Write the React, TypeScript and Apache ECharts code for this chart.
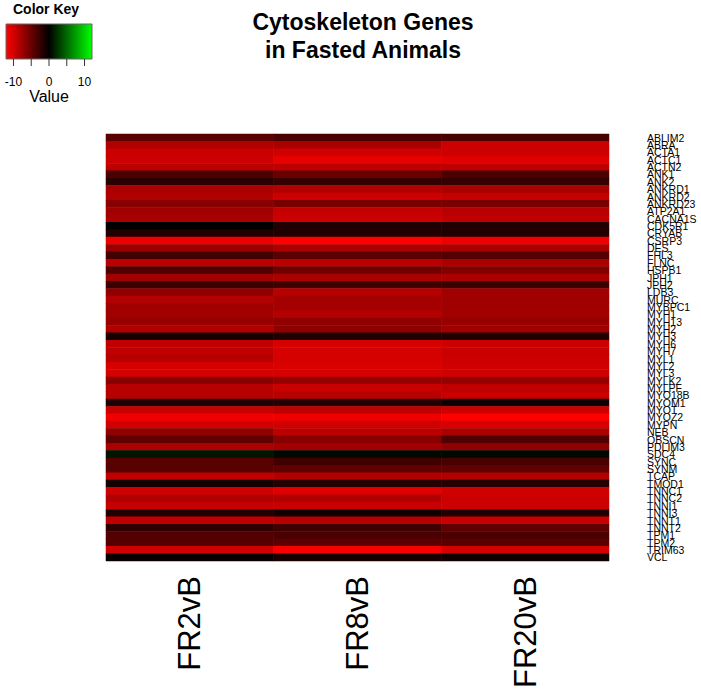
import React, { useEffect, useRef } from "react";
import * as echarts from "echarts";

const genes = [
  "ABLIM2", "ABRA", "ACTA1", "ACTC1", "ACTN2", "ANK1", "ANK2", "ANKRD1", "ANKRD2", "ANKRD23",
  "ATP2A1", "CACNA1S", "CDK5R1", "CRYAB", "CSRP3", "DES", "FHL3", "FLNC", "HSPB1", "JPH1",
  "JPH2", "LDB3", "MURC", "MYBPC1", "MYH1", "MYH13", "MYH2", "MYH3", "MYH6", "MYH7",
  "MYL1", "MYL2", "MYL3", "MYLK2", "MYLPF", "MYO18B", "MYOM1", "MYOT", "MYOZ2", "MYPN",
  "NEB", "OBSCN", "PDLIM3", "SDC4", "SYNC", "SYNM", "TCAP", "TMOD1", "TNNC1", "TNNC2",
  "TNNI1", "TNNI3", "TNNT1", "TNNT2", "TPM1", "TPM2", "TRIM63", "VCL",
];

const conditions = ["FR2vB", "FR8vB", "FR20vB"];

const fr2vB = [
  -4.3, -8.4, -9.5, -9.7, -8.9, -3.5, -2.0, -8.1, -8.4, -6.5,
  -7.6, -8.1, 0.0, -1.5, -11.3, -7.3, -3.2, -8.9, -3.8, -7.6,
  -2.8, -6.8, -8.5, -7.6, -7.6, -7.2, -8.4, -1.2, -9.1, -9.1,
  -8.7, -10.1, -10.1, -6.5, -8.7, -8.7, -1.5, -9.5, -11.4, -9.9,
  -6.8, -4.6, -8.1, 1.0, -4.2, -4.2, -9.1, -1.0, -9.9, -8.4,
  -9.3, -1.5, -9.1, -2.3, -4.0, -4.0, -9.9, -0.4,
];
const fr8vB = [
  -3.5, -8.0, -9.9, -10.9, -8.9, -5.0, -2.5, -8.4, -9.7, -5.8,
  -9.3, -9.7, -1.5, -1.5, -12.1, -8.1, -4.3, -8.9, -5.3, -8.0,
  -3.0, -8.7, -7.8, -7.8, -8.5, -6.8, -6.8, -1.5, -10.1, -10.1,
  -10.1, -10.3, -10.1, -7.1, -9.5, -8.7, -1.8, -9.1, -11.3, -9.9,
  -8.9, -6.5, -7.6, 0.4, -3.0, -4.6, -8.4, -1.8, -10.6, -8.4,
  -9.5, -0.8, -8.7, -3.0, -3.5, -4.3, -11.8, -1.2,
];
const fr20vB = [
  -3.3, -9.7, -9.7, -10.6, -8.9, -3.5, -2.5, -8.0, -9.3, -5.8,
  -8.7, -9.1, -1.5, -1.5, -11.3, -8.1, -4.0, -8.1, -6.1, -8.1,
  -2.8, -7.6, -7.6, -7.6, -7.6, -7.2, -7.6, -1.5, -9.7, -9.5,
  -9.7, -9.9, -9.9, -7.1, -9.1, -9.5, -0.8, -9.7, -12.1, -10.2,
  -8.1, -3.8, -6.8, 0.4, -3.4, -4.6, -8.4, -1.8, -9.9, -9.7,
  -9.7, -1.5, -9.5, -4.6, -3.5, -4.3, -10.1, -0.8,
];

const keyTicks = [-10, -5, 0, 5, 10];
const keyTickLabels = ["-10", "0", "10"];
const keyTickLabelValues = [-10, 0, 10];

const FONT = "'Liberation Sans', Arial, Helvetica, sans-serif";

export default function App() {
  const ref = useRef<HTMLDivElement>(null);

  useEffect(() => {
    if (!ref.current) return;
    const chart = echarts.init(ref.current, undefined, { renderer: "svg" });

    const columns = [fr2vB, fr8vB, fr20vB];
    const data: [number, number, number][] = [];
    columns.forEach((col, ci) => {
      col.forEach((v, ri) => data.push([ci, ri, v]));
    });

    const keyX0 = 6;
    const keyX1 = 92;
    const keyY0 = 24;
    const keyY1 = 59;
    const keyMin = -12.1;
    const keyMax = 12.1;
    const kx = (v: number) => keyX0 + ((v - keyMin) / (keyMax - keyMin)) * (keyX1 - keyX0);

    const graphics: any[] = [
      {
        type: "text",
        left: 13,
        top: 2,
        style: { text: "Color Key", font: `bold 14px ${FONT}`, fill: "#000" },
      },
      {
        type: "rect",
        shape: { x: keyX0, y: keyY0, width: keyX1 - keyX0, height: keyY1 - keyY0 },
        style: {
          fill: new echarts.graphic.LinearGradient(0, 0, 1, 0, [
            { offset: 0, color: "#ff0000" },
            { offset: 0.5, color: "#000000" },
            { offset: 1, color: "#00ff00" },
          ]),
          stroke: "#666",
          lineWidth: 1,
        },
      },
      ...keyTicks.map((t) => ({
        type: "line",
        shape: { x1: kx(t), y1: keyY1, x2: kx(t), y2: keyY1 + 7 },
        style: { stroke: "#333", lineWidth: 1 },
      })),
      ...keyTickLabels.map((lab, i) => ({
        type: "text",
        x: kx(keyTickLabelValues[i]),
        y: 82,
        style: {
          text: lab,
          font: `12px ${FONT}`,
          fill: "#000",
          align: "center",
          verticalAlign: "middle",
        },
      })),
      {
        type: "text",
        x: 49,
        y: 96,
        style: {
          text: "Value",
          font: `16px ${FONT}`,
          fill: "#000",
          align: "center",
          verticalAlign: "middle",
        },
      },
    ];

    chart.setOption({
      animation: false,
      backgroundColor: "#ffffff",
      title: {
        text: "Cytoskeleton Genes\nin Fasted Animals",
        left: 358,
        top: 3,
        textAlign: "center",
        textStyle: {
          fontFamily: FONT,
          fontSize: 23,
          fontWeight: "bold",
          lineHeight: 28,
          color: "#000",
        },
      },
      grid: { left: 106, right: 92, top: 134, bottom: 133, containLabel: false },
      xAxis: {
        type: "category",
        data: conditions,
        position: "bottom",
        axisLine: { show: false },
        axisTick: { show: false },
        splitLine: { show: false },
        axisLabel: {
          rotate: 90,
          margin: 15,
          fontSize: 31,
          fontFamily: FONT,
          color: "#000",
          interval: 0,
        },
      },
      yAxis: {
        type: "category",
        data: genes,
        inverse: true,
        position: "right",
        axisLine: { show: false },
        axisTick: { show: false },
        splitLine: { show: false },
        axisLabel: {
          interval: 0,
          margin: 38,
          fontSize: 10.5,
          fontFamily: FONT,
          color: "#000",
          lineHeight: 11,
        },
      },
      visualMap: {
        show: false,
        type: "continuous",
        min: keyMin,
        max: keyMax,
        dimension: 2,
        inRange: { color: ["#ff0000", "#000000", "#00ff00"] },
      },
      series: [
        {
          type: "heatmap",
          data,
          itemStyle: { borderWidth: 0 },
          emphasis: { disabled: true },
        },
      ],
      graphic: graphics,
    });

    return () => chart.dispose();
  }, []);

  return (
    <div
      ref={ref}
      style={{ position: "fixed", left: 0, top: 0, width: 701, height: 694, background: "#fff" }}
    />
  );
}
